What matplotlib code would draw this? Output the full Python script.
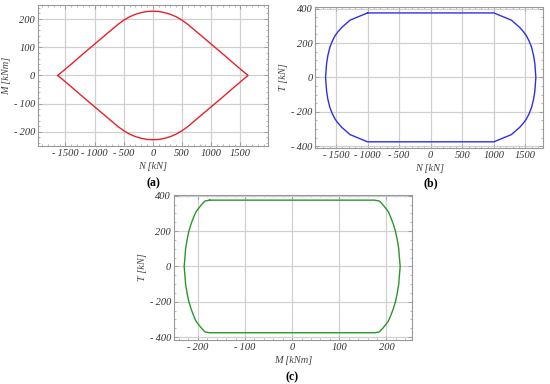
import numpy as np
import matplotlib.pyplot as plt
from matplotlib.ticker import MultipleLocator, FuncFormatter

# ---------------------------------------------------------------------------
# data (closed interaction domains)
# ---------------------------------------------------------------------------

# (a) N-M domain
N_A = [-1630, -1400, -1200, -1000, -800, -600, -500, -400, -300, -200, -100, 0,
       100, 200, 300, 400, 500, 600, 800, 1000, 1200, 1400, 1630,
       1400, 1200, 1000, 800, 600, 500, 400, 300, 200, 100, 0,
       -100, -200, -300, -400, -500, -600, -800, -1000, -1200, -1400, -1630]
M_A = [0, 40, 76, 111, 146, 181, 196, 208, 217, 223, 227, 228,
       227, 223, 217, 208, 196, 181, 146, 111, 76, 40, 0,
       -40, -76, -111, -146, -181, -196, -208, -217, -223, -227, -228,
       -227, -223, -217, -208, -196, -181, -146, -111, -76, -40, 0]

# (b) N-T domain
N_B = [-1000, 1000, 1277, 1408, 1470, 1514, 1560, 1597, 1630, 1649, 1665,
       1649, 1630, 1597, 1560, 1514, 1470, 1408, 1277, 1000,
       -1000, -1277, -1408, -1470, -1514, -1560, -1597, -1630, -1649, -1665,
       -1649, -1630, -1597, -1560, -1514, -1470, -1408, -1277, -1000]
T_B = [375, 375, 333, 291, 265, 243, 210, 175, 125, 79, 0,
       -79, -125, -175, -210, -243, -265, -291, -333, -375,
       -375, -333, -291, -265, -243, -210, -175, -125, -79, 0,
       79, 125, 175, 210, 243, 265, 291, 333, 375]

# (c) M-T domain
M_C = [-175, 175, 185, 193, 198, 204, 209, 214, 219, 223, 226, 227, 229,
       227, 226, 223, 219, 214, 209, 204, 198, 193, 185, 175,
       -175, -185, -193, -198, -204, -209, -214, -219, -223, -226, -227, -229,
       -227, -226, -223, -219, -214, -209, -204, -198, -193, -185, -175]
T_C = [375, 375, 370, 347, 330, 309, 278, 243, 200, 149, 100, 64, 0,
       -64, -100, -149, -200, -243, -278, -309, -330, -347, -370, -375,
       -375, -370, -347, -330, -309, -278, -243, -200, -149, -100, -64, 0,
       64, 100, 149, 200, 243, 278, 309, 330, 347, 370, 375]

TICK_FONT = dict(family='Liberation Serif', style='italic', size=7.5, color='#333333')
LABEL_FONT = dict(family='Liberation Serif', style='italic', size=7.5, color='#444444')


def tick_fmt(v, pos):
    v = int(round(v))
    return f'-\u2009{abs(v)}' if v < 0 else f'{v}'


def style_axes(ax, xmaj, xmin, ymaj, ymin, xlim, ylim):
    ax.set_xlim(*xlim)
    ax.set_ylim(*ylim)
    ax.xaxis.set_major_locator(MultipleLocator(xmaj))
    ax.xaxis.set_minor_locator(MultipleLocator(xmin))
    ax.yaxis.set_major_locator(MultipleLocator(ymaj))
    ax.yaxis.set_minor_locator(MultipleLocator(ymin))
    ax.xaxis.set_major_formatter(FuncFormatter(tick_fmt))
    ax.yaxis.set_major_formatter(FuncFormatter(tick_fmt))
    ax.grid(True, which='major', color='#d0d0d0', lw=0.9)
    ax.axhline(0, color='#a0a0a0', lw=0.7, zorder=1)
    ax.axvline(0, color='#a0a0a0', lw=0.7, zorder=1)
    for s in ax.spines.values():
        s.set_color('#999999')
        s.set_linewidth(0.8)
    ax.tick_params(which='both', direction='in', top=True, right=True,
                   color='#999999', pad=2)
    ax.tick_params(which='major', length=3, width=0.6)
    ax.tick_params(which='minor', length=1.5, width=0.5)
    for lab in ax.get_xticklabels() + ax.get_yticklabels():
        lab.set_fontfamily(TICK_FONT['family'])
        lab.set_fontstyle('italic')
        lab.set_fontsize(TICK_FONT['size'])
        lab.set_color(TICK_FONT['color'])


fig = plt.figure(figsize=(5.5, 3.84), dpi=100)

# (a)
ax1 = fig.add_axes([0.069, 0.620, 0.418, 0.367])
ax1.plot(N_A, M_A, color='#e8202a', lw=1.0, zorder=3)
style_axes(ax1, 500, 100, 100, 20, (-1970, 1970), (-250, 250))
ax1.set_xlabel('N [kN]', fontdict=LABEL_FONT, labelpad=3)
ax1.set_ylabel('M [kNm]', fontdict=LABEL_FONT, labelpad=2)

# (b)
ax2 = fig.add_axes([0.573, 0.615, 0.4145, 0.367])
ax2.plot(N_B, T_B, color='#2f2fe8', lw=1.0, zorder=3)
style_axes(ax2, 500, 100, 200, 50, (-1830, 1780), (-410, 410))
ax2.set_xlabel('N [kN]', fontdict=LABEL_FONT, labelpad=3)
ax2.set_ylabel('T [kN]', fontdict=LABEL_FONT, labelpad=2)

# (c)
ax3 = fig.add_axes([0.316, 0.1146, 0.433, 0.378])
ax3.plot(M_C, T_C, color='#2a962a', lw=1.0, zorder=3)
style_axes(ax3, 100, 20, 200, 50, (-251, 254), (-416, 405))
ax3.set_xlabel('M [kNm]', fontdict=LABEL_FONT, labelpad=3)
ax3.set_ylabel('T [kN]', fontdict=LABEL_FONT, labelpad=2)

cap = dict(family='Liberation Serif', size=8.5, weight='bold', ha='center', va='center')
fig.text(153 / 550, 1 - 183 / 384, '(a)', **cap)
fig.text(431 / 550, 1 - 183 / 384, '(b)', **cap)
fig.text(292 / 550, 1 - 377 / 384, '(c)', **cap)

fig.savefig('out.png', dpi=100)
